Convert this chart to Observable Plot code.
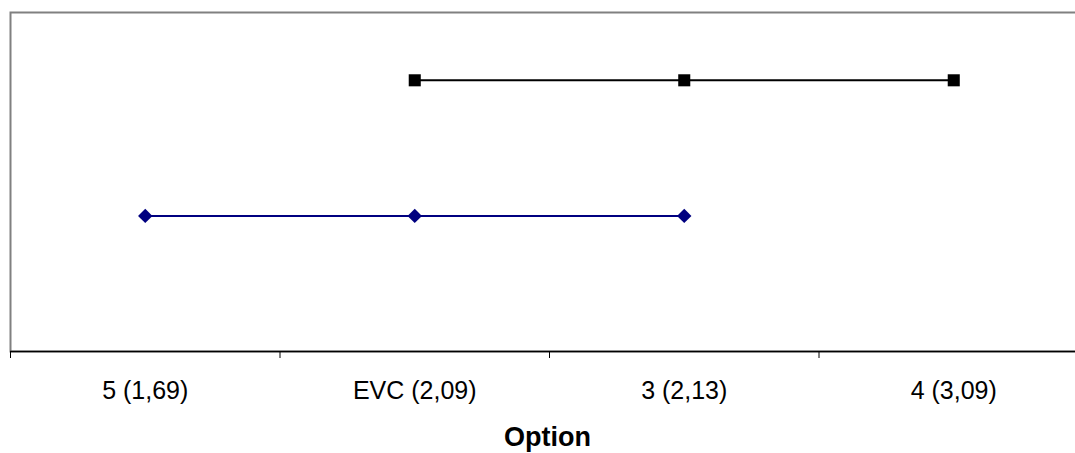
<!DOCTYPE html>
<html><head><meta charset="utf-8">
<script src="https://cdn.jsdelivr.net/npm/d3@7"></script>
<script src="https://cdn.jsdelivr.net/npm/@observablehq/plot@0.6"></script>
<style>html,body{margin:0;padding:0;overflow:hidden;background:#fff}#chart svg{max-width:none!important}</style>
</head><body><div id="chart"></div><script>
const categories = ["5 (1,69)", "EVC (2,09)", "3 (2,13)", "4 (3,09)"];
const squareValues = [null, 2, 2, 2];
const diamondValues = [1, 1, 1, null];
const axisTitle = "Option";

const rows = (vals, name) => categories
  .map((c, i) => ({pos: i + 0.5, cat: c, value: vals[i], series: name}))
  .filter(d => d.value != null);
const squares = rows(squareValues, "squares");
const diamonds = rows(diamondValues, "diamonds");
const boundaries = d3.range(categories.length + 1);
const centers = categories.map((c, i) => i + 0.5);

const chart = Plot.plot({
  width: 1090,
  height: 453,
  marginLeft: 10,
  marginRight: 2,
  marginTop: 12,
  marginBottom: 102,
  style: {fontFamily: "'Liberation Sans', Arial, sans-serif", background: "#fff", maxWidth: "none"},
  x: {domain: [0, categories.length], label: null},
  y: {domain: [0, 2.5], axis: null},
  marks: [
    Plot.frame({stroke: "#808080", strokeWidth: 2}),
    Plot.ruleY([0], {stroke: "#000", strokeWidth: 1.5}),
    Plot.axisX(boundaries, {tickSize: 7, tickFormat: () => "", stroke: "#000", strokeWidth: 1, label: null}),
    Plot.axisX(centers, {tickSize: 0, tickPadding: 30, fontSize: 25, fill: "#000", label: null,
      tickFormat: d => categories[Math.round(d - 0.5)]}),
    Plot.text([axisTitle], {frameAnchor: "bottom", dx: -2, dy: 94, fontSize: 27, fontWeight: "bold", fill: "#000"}),
    Plot.line(squares, {x: "pos", y: "value", stroke: "#000", strokeWidth: 2}),
    Plot.dot(squares, {x: "pos", y: "value", symbol: "square", r: 6.8, fill: "#000", stroke: "none"}),
    Plot.line(diamonds, {x: "pos", y: "value", stroke: "#000080", strokeWidth: 2}),
    Plot.dot(diamonds, {x: "pos", y: "value", symbol: "diamond2", r: 6.5, fill: "#000080", stroke: "none"})
  ]
});
document.getElementById("chart").appendChild(chart);
</script></body></html>
